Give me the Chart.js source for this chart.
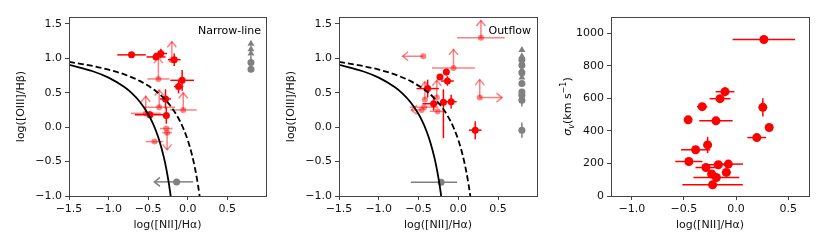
<!DOCTYPE html>
<html>
<head>
<meta charset="utf-8">
<script src="https://cdn.jsdelivr.net/npm/chart.js@4/dist/chart.umd.min.js"></script>
<style>
  html, body { margin: 0; padding: 0; background: #fff; }
  .wrap { position: relative; width: 830px; height: 249px; overflow: hidden; }
  canvas { position: absolute; top: 0; }
</style>
</head>
<body>
<div class="wrap">
  <canvas id="c1" width="270" height="249" style="left:0"></canvas>
  <canvas id="c2" width="275" height="249" style="left:270px"></canvas>
  <canvas id="c3" width="285" height="249" style="left:545px"></canvas>
</div>
<script>
// ── tick labels ──
const BPT_XTICKS = [-1.5, -1.0, -0.5, 0.0, 0.5];
const BPT_YTICKS = [-1.0, -0.5, 0.0, 0.5, 1.0, 1.5];
const SIG_XTICKS = [-1.0, -0.5, 0.0, 0.5];
const SIG_YTICKS = [0, 200, 400, 600, 800, 1000];

// ── demarcation curves ──
const kauffX = [-1.5, -1.2, -1.0, -0.8, -0.7, -0.6, -0.5, -0.45, -0.4, -0.35, -0.3, -0.275, -0.25, -0.235, -0.22, -0.21];
const kauffY = [0.906, 0.812, 0.719, 0.582, 0.487, 0.362, 0.191, 0.080, -0.056, -0.225, -0.443, -0.577, -0.733, -0.840, -0.959, -1.046];
const kewX = [-1.5, -1.2, -1.0, -0.8, -0.6, -0.4, -0.3, -0.2, -0.1, -0.05, 0.0, 0.05, 0.1, 0.13, 0.15, 0.16];
const kewY = [0.948, 0.889, 0.836, 0.766, 0.668, 0.522, 0.419, 0.282, 0.093, -0.032, -0.186, -0.383, -0.640, -0.837, -0.993, -1.080];

// ── Narrow-line panel ──
const nlX    = [-0.71, -0.40, -0.34, -0.17, -0.07, -0.115, -0.28, -0.477, -0.27];
const nlY    = [1.05, 1.02, 1.07, 0.98, 0.68, 0.59, 0.41, 0.18, 0.17];
const nlXerr = [0.18, 0.12, 0.08, 0.08, 0.15, 0.06, 0.07, 0.19, 0.04];
const nlYerr = [0.02, 0.04, 0.07, 0.09, 0.15, 0.10, 0.14, 0.05, 0.12];

const nlLimX    = [-0.37, -0.20, -0.36, -0.056, -0.53, -0.27, -0.42, -0.26];
const nlLimY    = [0.70, 0.97, 0.29, 0.25, 0.20, -0.02, -0.21, -0.08];
const nlLimXerr = [0.14, 0, 0.2, 0.17, 0.19, 0.08, 0.11, 0.06];
const nlLimDy   = [0.31, 0.27, 0.25, 0.25, 0.25, 0, 0, -0.25];

const nlGrayY    = [0.94, 0.84];
const nlGrayYerr = [[0.05, 0.10], [0.03, 0.10]];
const nlGrayTriY = [1.21, 1.13, 1.07];
const nlGrayLowX = [-0.14];
const nlGrayLowY = [-0.795];
const nlGrayLowXerr = [[0, 0.21]];
const nlGrayLowDx = [-0.28];

// ── Outflow panel ──
const ofX    = [-0.23, -0.15, -0.136, -0.385, -0.31, -0.187, -0.09, 0.213];
const ofY    = [0.73, 0.80, 0.67, 0.56, 0.34, 0.36, 0.37, -0.044];
const ofXerr = [0.03, 0.03, 0.08, 0.14, 0.14, 0.03, 0.07, 0.08];
const ofYerr = [0.03, 0.05, 0.07, 0.13, 0.10, [0.52, 0.19], 0.10, 0.13];

const ofLimX    = [0.285, -0.44, -0.06, 0.27, -0.42, -0.27, -0.43, -0.26, -0.46];
const ofLimY    = [1.30, 1.03, 0.86, 0.43, 0.40, 0.43, 0.29, 0.23, 0.25];
const ofLimXerr = [0.30, 0, 0.27, 0, 0, 0, 0.18, 0.10, 0];
const ofLimDx   = [0, -0.26, 0, 0.28, 0, 0, 0, 0, -0.13];
const ofLimDy   = [0.25, 0, 0.27, 0.26, 0.26, 0.25, 0, 0, 0];

const ofGrayY    = [0.98, 0.90, 0.79, 0.635, 0.51, 0.465, 0.39, -0.044];
const ofGrayYerr = [0.03, 0.03, 0.03, 0.03, 0.03, 0.03, [0.09, 0.05], 0.11];
const ofGrayTriY = [1.12, 1.03, 0.83, 0.72];
const ofGrayLowX = [-0.216];
const ofGrayLowY = [-0.80];
const ofGrayLowXerr = [[0.38, 0.20]];

const GRAY_X = 0.80;

// ── sigma panel ──
const sigX    = [0.267, -0.106, -0.154, -0.325, 0.257, -0.46, -0.193, 0.318, 0.199, -0.273, -0.388, -0.453, -0.289, -0.17, -0.074, -0.234, -0.189, -0.093, -0.225];
const sigY    = [962, 641, 598, 549, 545, 468, 462, 421, 359, 314, 284, 212, 175, 192, 196, 135, 114, 145, 69];
const sigXerr = [0.30, 0.09, 0.10, 0.05, 0.01, 0.03, 0.16, 0.03, 0.09, 0.04, 0.14, 0.13, 0.10, 0.10, 0.14, 0.04, 0.22, 0.04, 0.29];
const sigYerr = [5, 28, 10, 10, 56, 10, 8, 10, 10, 50, 10, 10, 10, 10, 10, 10, 10, 20, 10];

// ── colours ──
const RED = '#ff0000';
const RED_LIGHT = 'rgba(255,0,0,0.5)';
const GRAY = '#808080';
const FRAME = '#444';

Chart.defaults.font.family = 'DejaVu Sans';
Chart.defaults.font.size = 11;
Chart.defaults.color = '#111';

const pts = (xs, ys) => xs.map((x, i) => ({ x, y: ys[i] }));
const pair = e => Array.isArray(e) ? e : [e || 0, e || 0];

function seg(ctx, x0, y0, x1, y1) {
  ctx.beginPath(); ctx.moveTo(x0, y0); ctx.lineTo(x1, y1); ctx.stroke();
}
function arrow(ctx, x0, y0, x1, y1) {
  seg(ctx, x0, y0, x1, y1);
  const len = Math.hypot(x1 - x0, y1 - y0) || 1;
  const ux = (x1 - x0) / len, uy = (y1 - y0) / len;
  const h = 5.5, w = 4.5;
  ctx.beginPath();
  ctx.moveTo(x1 - h * ux - w * uy, y1 - h * uy + w * ux);
  ctx.lineTo(x1, y1);
  ctx.lineTo(x1 - h * ux + w * uy, y1 - h * uy - w * ux);
  ctx.stroke();
}

// error bars + limit arrows, drawn under each dataset's markers
const errorBars = {
  id: 'errorBars',
  beforeDatasetDraw(chart, args) {
    const ds = chart.data.datasets[args.index];
    if (!ds.err) return;
    const { ctx, chartArea: a, scales: { x: sx, y: sy } } = chart;
    const e = ds.err;
    ctx.save();
    ctx.beginPath(); ctx.rect(a.left, a.top, a.right - a.left, a.bottom - a.top); ctx.clip();
    ctx.strokeStyle = ds.backgroundColor;
    ctx.lineWidth = 1.5;
    ds.data.forEach((p, i) => {
      const px = sx.getPixelForValue(p.x), py = sy.getPixelForValue(p.y);
      const [xl, xh] = pair(e.x && e.x[i]);
      const [yl, yh] = pair(e.y && e.y[i]);
      if (xl || xh) seg(ctx, sx.getPixelForValue(p.x - xl), py, sx.getPixelForValue(p.x + xh), py);
      if (yl || yh) seg(ctx, px, sy.getPixelForValue(p.y - yl), px, sy.getPixelForValue(p.y + yh));
      if (e.dx && e.dx[i]) arrow(ctx, px, py, sx.getPixelForValue(p.x + e.dx[i]), py);
      if (e.dy && e.dy[i]) arrow(ctx, px, py, px, sy.getPixelForValue(p.y + e.dy[i]));
    });
    ctx.restore();
  }
};

// axes box + panel note
const frame = {
  id: 'frame',
  afterDraw(chart, args, opts) {
    const { ctx, chartArea: a } = chart;
    ctx.save();
    ctx.strokeStyle = FRAME;
    ctx.lineWidth = 1;
    ctx.strokeRect(Math.round(a.left) + 0.5, Math.round(a.top) + 0.5,
      Math.round(a.right - a.left), Math.round(a.bottom - a.top));
    if (opts.note) {
      ctx.fillStyle = '#000';
      ctx.font = '11px "DejaVu Sans"';
      ctx.textBaseline = 'middle';
      ctx.textAlign = 'left';
      ctx.fillText(opts.note.text,
        chart.scales.x.getPixelForValue(opts.note.x),
        chart.scales.y.getPixelForValue(opts.note.y));
    }
    ctx.restore();
  }
};

// sigma_v (km s^-1) y title with sub/superscript
const sigmaTitle = {
  id: 'sigmaTitle',
  afterDraw(chart) {
    const { ctx, chartArea: a } = chart;
    const parts = [
      ['σ', 'italic 11px "DejaVu Sans"', 0],
      ['v', 'italic 8px "DejaVu Sans"', 3],
      ['(km s', '11px "DejaVu Sans"', 0],
      ['\u22121', '8px "DejaVu Sans"', -4.5],
      [')', '11px "DejaVu Sans"', 0]
    ];
    ctx.save();
    let total = 0;
    parts.forEach(p => { ctx.font = p[1]; total += ctx.measureText(p[0]).width; });
    ctx.translate(21.7, (a.top + a.bottom) / 2);
    ctx.rotate(-Math.PI / 2);
    ctx.fillStyle = '#000';
    ctx.textBaseline = 'alphabetic';
    let cx = -total / 2;
    parts.forEach(p => {
      ctx.font = p[1];
      ctx.fillText(p[0], cx, 4 + p[2]);
      cx += ctx.measureText(p[0]).width;
    });
    ctx.restore();
  }
};

const fmt1 = v => (v < 0 ? '\u2212' : '') + Math.abs(v).toFixed(1);
const tickGrid = { drawOnChartArea: false, drawTicks: true, tickLength: 4, color: FRAME, lineWidth: 1 };

function xAxis(min, max, ticks) {
  return {
    type: 'linear', min, max,
    afterBuildTicks: s => { s.ticks = ticks.map(v => ({ value: v })); },
    afterFit: s => { s.height = 53; },
    grid: tickGrid, border: { display: false },
    ticks: { callback: fmt1, padding: 3, maxRotation: 0, color: '#111' },
    title: { display: true, text: 'log([NII]/H\u03b1)', color: '#111', padding: { top: 0, bottom: 17 } }
  };
}
function yAxis(min, max, ticks, width, title, cb) {
  return {
    type: 'linear', min, max,
    afterBuildTicks: s => { s.ticks = ticks.map(v => ({ value: v })); },
    afterFit: s => { s.width = width; },
    grid: tickGrid, border: { display: false },
    ticks: { callback: cb, padding: 3, color: '#111' },
    title: { display: !!title, text: title, color: '#111', padding: { top: 15, bottom: 0 } }
  };
}

function curves() {
  return [
    { type: 'line', data: pts(kauffX, kauffY), borderColor: '#000', borderWidth: 1.8,
      pointRadius: 0, cubicInterpolationMode: 'monotone', fill: false },
    { type: 'line', data: pts(kewX, kewY), borderColor: '#000', borderWidth: 1.8, borderDash: [6, 3],
      pointRadius: 0, cubicInterpolationMode: 'monotone', fill: false }
  ];
}
const scatter = (data, color, r, err, style) => ({
  type: 'scatter', data, backgroundColor: color, borderWidth: 0,
  pointRadius: r, pointStyle: style || 'circle', err
});

function baseOptions(padRight, scales, note) {
  return {
    responsive: false, animation: false, devicePixelRatio: 1,
    layout: { padding: { left: 0, right: padRight, top: 17, bottom: 0 } },
    plugins: { legend: { display: false }, tooltip: { enabled: false }, frame: { note } },
    scales
  };
}

// Narrow-line
new Chart(document.getElementById('c1'), {
  data: {
    datasets: [
      ...curves(),
      scatter(pts(nlLimX, nlLimY), RED_LIGHT, 3, { x: nlLimXerr, dy: nlLimDy }),
      scatter(pts(nlGrayY.map(() => GRAY_X), nlGrayY), GRAY, 3.5, { y: nlGrayYerr }),
      scatter(pts(nlGrayTriY.map(() => GRAY_X), nlGrayTriY), GRAY, 4, null, 'triangle'),
      scatter(pts(nlGrayLowX, nlGrayLowY), GRAY, 3.5, { x: nlGrayLowXerr, dx: nlGrayLowDx }),
      scatter(pts(nlX, nlY), RED, 3.5, { x: nlXerr, y: nlYerr })
    ]
  },
  options: baseOptions(3, {
    x: xAxis(-1.5, 0.99, BPT_XTICKS),
    y: yAxis(-1.0, 1.6, BPT_YTICKS, 69, 'log([OIII]/H\u03b2)', fmt1)
  }, { text: 'Narrow-line', x: 0.13, y: 1.395 }),
  plugins: [errorBars, frame]
});

// Outflow
new Chart(document.getElementById('c2'), {
  data: {
    datasets: [
      ...curves(),
      scatter(pts(ofLimX, ofLimY), RED_LIGHT, 3, { x: ofLimXerr, dx: ofLimDx, dy: ofLimDy }),
      scatter(pts(ofGrayY.map(() => GRAY_X), ofGrayY), GRAY, 3.5, { y: ofGrayYerr }),
      scatter(pts(ofGrayTriY.map(() => GRAY_X), ofGrayTriY), GRAY, 4, null, 'triangle'),
      scatter(pts(ofGrayLowX, ofGrayLowY), GRAY, 3.5, { x: ofGrayLowXerr }),
      scatter(pts(ofX, ofY), RED, 3.5, { x: ofXerr, y: ofYerr })
    ]
  },
  options: baseOptions(8, {
    x: xAxis(-1.5, 0.99, BPT_XTICKS),
    y: yAxis(-1.0, 1.6, BPT_YTICKS, 69, 'log([OIII]/H\u03b2)', fmt1)
  }, { text: 'Outflow', x: 0.38, y: 1.395 }),
  plugins: [errorBars, frame]
});

// sigma_v vs [NII]/Halpha
new Chart(document.getElementById('c3'), {
  data: {
    datasets: [
      scatter(pts(sigX, sigY), RED, 4.5, { x: sigXerr, y: sigYerr })
    ]
  },
  options: baseOptions(21, {
    x: xAxis(-1.2, 0.7, SIG_XTICKS),
    y: yAxis(0, 1100, SIG_YTICKS, 66, '', v => String(v))
  }, null),
  plugins: [errorBars, frame, sigmaTitle]
});
</script>
</body>
</html>
